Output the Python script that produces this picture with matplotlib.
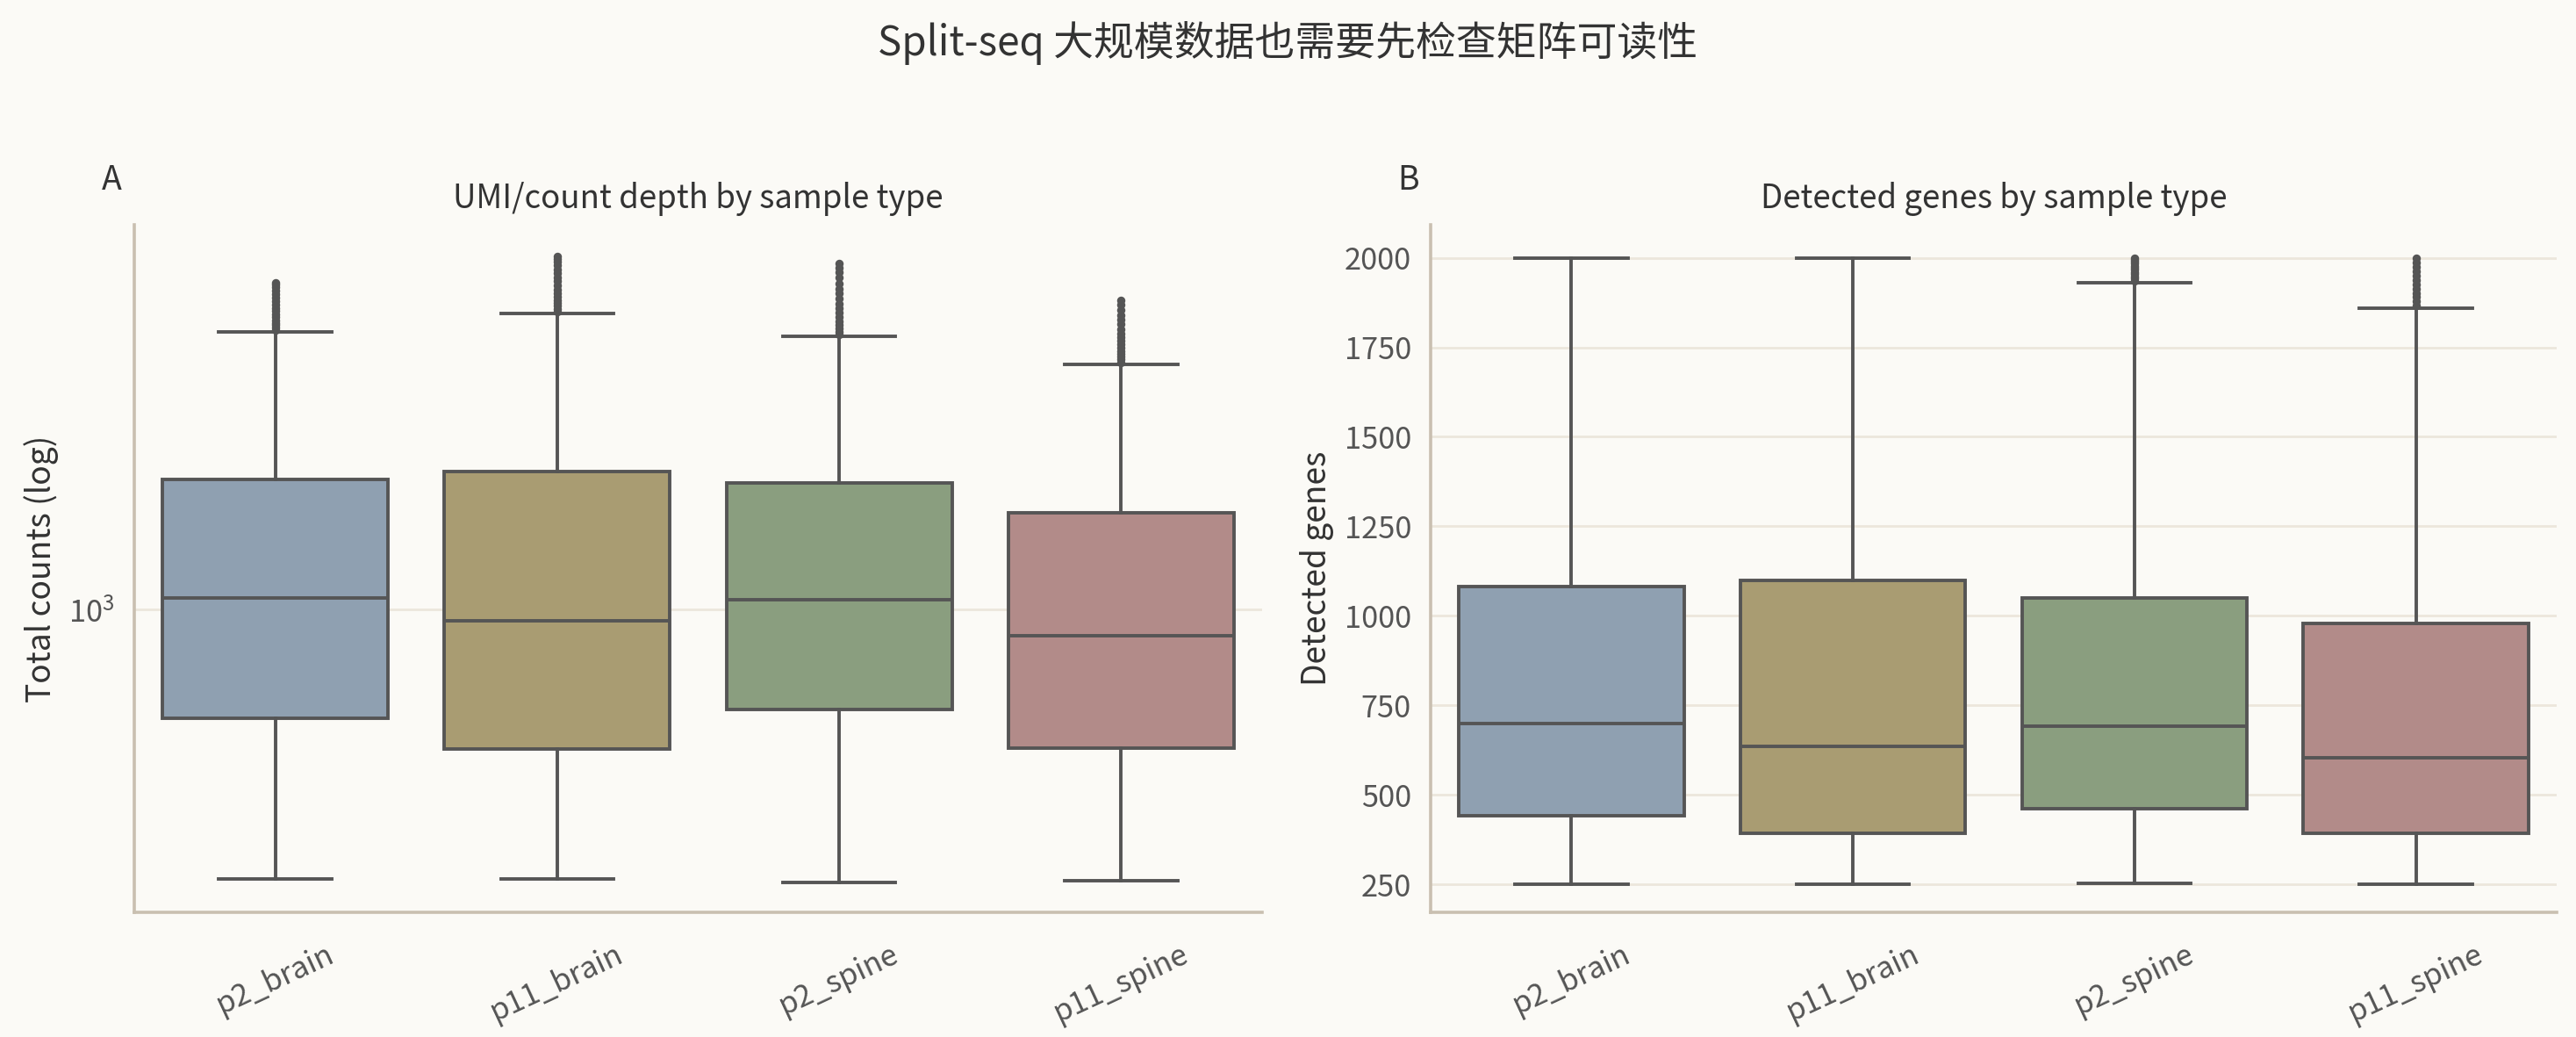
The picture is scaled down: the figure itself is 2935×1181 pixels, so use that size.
import matplotlib
matplotlib.use("Agg")
import matplotlib.pyplot as plt

plt.rcParams['font.family'] = ['Noto Sans CJK SC', 'DejaVu Sans']

# sample types
samples = ["p2_brain", "p11_brain", "p2_spine", "p11_spine"]
colors = ["#8fa0b1", "#a99c72", "#8a9e7f", "#b28b89"]

# panel A: total counts (log scale)
cnt_whislo = [340, 340, 336, 338]
cnt_q1 = [648, 572, 670, 575]
cnt_med = [1047, 955, 1040, 900]
cnt_q3 = [1681, 1738, 1660, 1474]
cnt_whishi = [3040, 3268, 2980, 2666]
cnt_fliers = [
    [3060, 3090, 3120, 3150, 3180, 3220, 3260, 3300, 3340, 3380, 3430,
     3480, 3530, 3580, 3630, 3670, 3700],
    [3290, 3330, 3370, 3410, 3450, 3500, 3550, 3600, 3660, 3720, 3780,
     3840, 3900, 3960, 4020, 4070, 4110],
    [3000, 3040, 3080, 3120, 3170, 3220, 3280, 3340, 3400, 3470, 3540,
     3610, 3690, 3770, 3850, 3930, 4000],
    [2690, 2720, 2750, 2780, 2810, 2850, 2890, 2930, 2970, 3020, 3070,
     3130, 3190, 3250, 3310, 3380, 3440],
]

# panel B: detected genes
gen_whislo = [250, 250, 252, 250]
gen_q1 = [443, 392, 461, 392]
gen_med = [700, 636, 691, 604]
gen_q3 = [1081, 1100, 1049, 980]
gen_whishi = [2000, 2000, 1931, 1858]
gen_fliers = [
    [],
    [],
    [1936, 1942, 1948, 1954, 1960, 1966, 1972, 1978, 1984, 1990, 1995, 1999],
    [1866, 1878, 1890, 1902, 1914, 1926, 1938, 1950, 1962, 1974, 1986, 1998],
]

BG = "#fbfaf6"
SPINE = "#c9bfb0"
GRID = "#ece6dc"
LINE = "#555555"
TEXT = "#333333"


def make_stats(lo, q1, med, q3, hi, fl):
    out = []
    for i in range(len(lo)):
        out.append(dict(whislo=lo[i], q1=q1[i], med=med[i], q3=q3[i],
                        whishi=hi[i], fliers=fl[i]))
    return out


def draw_panel(ax, stats, title, ylabel, letter):
    bp = ax.bxp(stats, positions=range(len(samples)), widths=0.8,
                patch_artist=True, showfliers=True,
                boxprops=dict(edgecolor=LINE, linewidth=1.4),
                medianprops=dict(color=LINE, linewidth=1.4),
                whiskerprops=dict(color=LINE, linewidth=1.4),
                capprops=dict(color=LINE, linewidth=1.4),
                flierprops=dict(marker='o', markersize=2.4, markerfacecolor=LINE,
                                markeredgecolor=LINE, linestyle='none'))
    for patch, c in zip(bp['boxes'], colors):
        patch.set_facecolor(c)
    for cap in bp['caps']:
        x = cap.get_xdata()
        mid = (x[0] + x[1]) / 2
        cap.set_xdata([mid - 0.2, mid + 0.2])
    ax.set_facecolor(BG)
    ax.set_xlim(-0.5, len(samples) - 0.5)
    ax.set_xticks(range(len(samples)))
    ax.set_xticklabels(samples, rotation=25, fontsize=12.4, color="#555555")
    ax.tick_params(axis='y', length=0, pad=8, labelsize=12.4, labelcolor="#555555")
    ax.tick_params(axis='x', length=0, pad=11, labelsize=12.4, labelcolor="#555555")
    ax.set_title(title, fontsize=13.2, color=TEXT, pad=7)
    ax.set_ylabel(ylabel, fontsize=13.4, color=TEXT)
    ax.text(-0.02, 1.065, letter, transform=ax.transAxes, fontsize=13.5,
            color=TEXT, ha='center', va='center')
    ax.grid(axis='y', color=GRID, linewidth=1.0)
    ax.set_axisbelow(True)
    for s in ['top', 'right']:
        ax.spines[s].set_visible(False)
    for s in ['left', 'bottom']:
        ax.spines[s].set_color(SPINE)
        ax.spines[s].set_linewidth(1.3)


fig = plt.figure(figsize=(14.675, 5.905), dpi=200, facecolor=BG)
ax1 = fig.add_axes([0.0521, 0.1202, 0.4379, 0.663])
ax2 = fig.add_axes([0.5554, 0.1202, 0.4371, 0.663])

ax1.set_yscale('log')
draw_panel(ax1, make_stats(cnt_whislo, cnt_q1, cnt_med, cnt_q3, cnt_whishi, cnt_fliers),
           "UMI/count depth by sample type", "Total counts (log)", "A")
ax1.set_ylim(298, 4660)
ax1.minorticks_off()

draw_panel(ax2, make_stats(gen_whislo, gen_q1, gen_med, gen_q3, gen_whishi, gen_fliers),
           "Detected genes by sample type", "Detected genes", "B")
ax2.set_ylim(172, 2092)
ax2.set_yticks([250, 500, 750, 1000, 1250, 1500, 1750, 2000])

fig.suptitle("Split-seq 大规模数据也需要先检查矩阵可读性", fontsize=16.5, color=TEXT, y=0.98)

fig.savefig("out.png", dpi=200, facecolor=BG)
